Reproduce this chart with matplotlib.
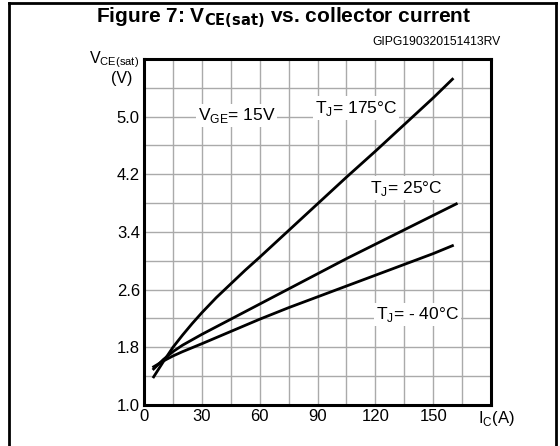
import matplotlib
matplotlib.use("Agg")
import matplotlib.pyplot as plt
from matplotlib.lines import Line2D

plt.rcParams["font.family"] = ["Liberation Sans", "DejaVu Sans"]
plt.rcParams["mathtext.fontset"] = "custom"
plt.rcParams["mathtext.rm"] = "Liberation Sans"

# collector current (A) and VCE(sat) (V)
ic_175 = [5, 10, 15, 20, 25, 30, 37.5, 45, 52.5, 60, 75, 90, 105, 120, 135, 150, 160]
v_175 = [1.39, 1.60, 1.80, 1.97, 2.13, 2.28, 2.49, 2.68, 2.87, 3.05, 3.42, 3.79, 4.16, 4.52, 4.89, 5.26, 5.52]

ic_25 = [5, 10, 15, 20, 30, 45, 60, 75, 90, 105, 120, 135, 150, 162]
v_25 = [1.50, 1.63, 1.74, 1.83, 1.98, 2.19, 2.40, 2.61, 2.82, 3.03, 3.23, 3.43, 3.63, 3.79]

ic_m40 = [5, 10, 15, 20, 30, 45, 60, 75, 90, 105, 120, 135, 150, 160]
v_m40 = [1.53, 1.61, 1.68, 1.74, 1.85, 2.02, 2.19, 2.35, 2.50, 2.65, 2.80, 2.95, 3.10, 3.21]

x_ticks = [0, 30, 60, 90, 120, 150]
y_ticks = [1.0, 1.8, 2.6, 3.4, 4.2, 5.0]

fig = plt.figure(figsize=(5.6, 4.46), dpi=100)
ax = fig.add_axes([144 / 560, 1 - 405 / 446, 347 / 560, 346 / 446])

for xs, ys in [(ic_175, v_175), (ic_25, v_25), (ic_m40, v_m40)]:
    ax.plot(xs, ys, color="black", linewidth=2.0, zorder=3)

ax.set_xlim(0, 180)
ax.set_ylim(1.0, 5.8)
ax.set_xticks(x_ticks)
ax.set_yticks(y_ticks)
ax.set_yticklabels([f"{v:.1f}" for v in y_ticks])
ax.set_xticks(range(15, 180, 30), minor=True)
ax.set_yticks([1.4 + 0.8 * i for i in range(6)], minor=True)
ax.grid(which="both", color="#aaaaaa", linewidth=1.0, zorder=0)
ax.tick_params(which="both", length=0, labelsize=12, pad=3)
for s in ax.spines.values():
    s.set_linewidth(2.2)

box = dict(facecolor="white", edgecolor="none", pad=1.5)
ax.text(48, 5.02, r"V$_{\mathregular{GE}}$= 15V", fontsize=12.5, ha="center", va="center", bbox=box, zorder=4)
ax.text(110, 5.12, r"T$_{\mathregular{J}}$= 175°C", fontsize=12.5, ha="center", va="center", bbox=box, zorder=4)
ax.text(136, 4.01, r"T$_{\mathregular{J}}$= 25°C", fontsize=12.5, ha="center", va="center", bbox=box, zorder=4)
ax.text(142, 2.25, r"T$_{\mathregular{J}}$= - 40°C", fontsize=12.5, ha="center", va="center", bbox=box, zorder=4)

fig.text(139 / 560, 1 - 60 / 446, r"V$_{\mathregular{CE(sat)}}$", fontsize=11.5, ha="right", va="center")
fig.text(132 / 560, 1 - 79 / 446, "(V)", fontsize=11.5, ha="right", va="center")
fig.text(496 / 560, 1 - 418 / 446, r"I$_{\mathregular{C}}$(A)", fontsize=12, ha="center", va="center")

fig.text(284 / 560, 1 - 18 / 446, r"Figure 7: V$_{\mathregular{\bf CE(sat)}}$ vs. collector current",
         fontsize=15, fontweight="bold", ha="center", va="center")
fig.text(501 / 560, 1 - 42 / 446, "GIPG190320151413RV", fontsize=8.7, ha="right", va="center")

# outer frame
fig.add_artist(Line2D([9 / 560, 9 / 560], [0, 1 - 3 / 446], color="black", linewidth=2))
fig.add_artist(Line2D([9 / 560, 556 / 560], [1 - 3 / 446, 1 - 3 / 446], color="black", linewidth=2))
fig.add_artist(Line2D([556 / 560, 556 / 560], [0, 1 - 3 / 446], color="black", linewidth=2))

fig.savefig("out.png", dpi=100)
